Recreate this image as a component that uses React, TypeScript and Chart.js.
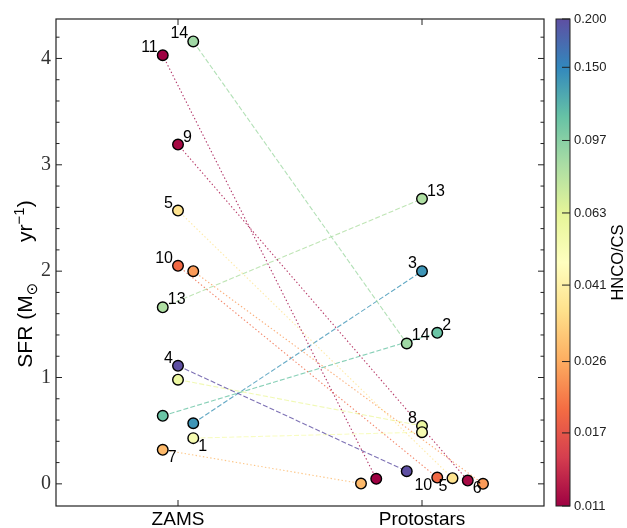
import React, { useEffect, useRef } from 'react';
import { Chart, registerables } from 'chart.js';

Chart.register(...registerables);

// ---------- data ----------
const categories = ['ZAMS', 'Protostars'];
const zamsSfr = [4.16, 4.03, 3.19, 2.57, 2.05, 2.0, 1.66, 1.11, 0.98, 0.64, 0.57, 0.43, 0.32];
const protoSfr = [1.32, 0.047, 0.031, 0.053, 0.059, 0.0, 2.68, 0.119, 0.545, 1.42, 2.0, 0.486, 0.003];
const hncoCs = [0.088, 0.011, 0.0115, 0.036, 0.019, 0.024, 0.082, 0.2, 0.058, 0.11, 0.14, 0.052, 0.028];
const zamsJitter = [1, -1, 0, 0, 0, 1, -1, 0, 0, -1, 1, 1, -1];
const protoJitter = [-1, -3, 3, 2, 1, 4, 0, -1, 0, 1, 0, 0, -4];
const zamsLabels = ['14', '11', '9', '5', '10', '', '13', '4', '', '', '', '1', '7'];
const protoLabels = ['14', '', '6', '5', '10', '', '13', '', '8', '2', '3', '', ''];
const zamsLabelPos = ['ul', 'ul', 'ur', 'ul', 'ul', '', 'ur', 'ul', '', '', '', 'lr', 'lr'];
const protoLabelPos = ['ur', '', 'lr', 'll', 'll', '', 'ur', '', 'ul', 'ur', 'ul', '', ''];
const lineStyle = ['dash', 'dot', 'dot', 'dot', 'dot', 'dot', 'dash', 'dash', 'dash', 'dash', 'dash', 'dash', 'dot'];
const yTicks = [0, 1, 2, 3, 4];
const cbTicks = [0.011, 0.017, 0.026, 0.041, 0.063, 0.097, 0.15, 0.2];
const cbMin = 0.011;
const cbMax = 0.2;

const JIT = 1 / 16;

const spectralStops = ['#9e0142', '#d53e4f', '#f46d43', '#fdae61', '#fee08b', '#ffffbf', '#e6f598', '#abdda4', '#66c2a5', '#3288bd', '#5e4fa2'];

function hexToRgb(h: string): number[] {
  return [parseInt(h.slice(1, 3), 16), parseInt(h.slice(3, 5), 16), parseInt(h.slice(5, 7), 16)];
}
function spectral(t: number): number[] {
  const tt = Math.max(0, Math.min(1, t)) * 10;
  const i = Math.min(9, Math.floor(tt));
  const f = tt - i;
  const a = hexToRgb(spectralStops[i]);
  const b = hexToRgb(spectralStops[i + 1]);
  return [0, 1, 2].map((k) => Math.round(a[k] + (b[k] - a[k]) * f));
}
function colorFor(v: number, alpha = 1): string {
  const t = Math.log(v / cbMin) / Math.log(cbMax / cbMin);
  const c = spectral(t);
  return `rgba(${c[0]},${c[1]},${c[2]},${alpha})`;
}

const decor = {
  id: 'decor',
  afterDatasetsDraw(chart: any) {
    const ctx = chart.ctx;
    ctx.save();
    ctx.font = '16px "Liberation Sans"';
    ctx.fillStyle = '#000';
    const draw = (dsIndex: number, labels: string[], pos: string[]) => {
      const meta = chart.getDatasetMeta(dsIndex);
      labels.forEach((lab, i) => {
        if (!lab) return;
        const el = meta.data[i];
        const p = pos[i];
        const left = p[1] === 'l';
        const up = p[0] === 'u';
        ctx.textAlign = left ? 'right' : 'left';
        ctx.textBaseline = 'alphabetic';
        ctx.fillText(lab, el.x + (left ? -5 : 5), el.y + (up ? -3 : 12.5));
      });
    };
    const n = zamsSfr.length;
    draw(n, zamsLabels, zamsLabelPos);
    draw(n + 1, protoLabels, protoLabelPos);
    ctx.restore();
  },
  afterDraw(chart: any) {
    const ctx = chart.ctx;
    const { left, right, top, bottom } = chart.chartArea;
    const ys = chart.scales.y;
    const xs = chart.scales.x;
    const cb = chart.scales.cb;
    ctx.save();
    // frame
    ctx.strokeStyle = '#222';
    ctx.lineWidth = 1.2;
    ctx.strokeRect(left, top, right - left, bottom - top);
    // y ticks
    ctx.lineWidth = 1;
    ctx.beginPath();
    yTicks.forEach((v) => {
      const py = ys.getPixelForValue(v);
      ctx.moveTo(left, py); ctx.lineTo(left + 6, py);
      ctx.moveTo(right, py); ctx.lineTo(right - 6, py);
    });
    for (let k = 1; k <= 21; k++) {
      if (k % 5 === 0) continue;
      const v = k * 0.2;
      if (v > ys.max) continue;
      const py = ys.getPixelForValue(v);
      ctx.moveTo(left, py); ctx.lineTo(left + 3.5, py);
      ctx.moveTo(right, py); ctx.lineTo(right - 3.5, py);
    }
    [0, 1].forEach((v) => {
      const px = xs.getPixelForValue(v);
      ctx.moveTo(px, bottom); ctx.lineTo(px, bottom - 6);
      ctx.moveTo(px, top); ctx.lineTo(px, top + 6);
    });
    ctx.stroke();

    // colorbar
    const bx = right + 12;
    const bw = 14;
    const g = ctx.createLinearGradient(0, cb.bottom, 0, cb.top);
    spectralStops.forEach((c, k) => g.addColorStop(k / 10, c));
    ctx.fillStyle = g;
    ctx.fillRect(bx, cb.top, bw, cb.bottom - cb.top);
    ctx.strokeStyle = '#222';
    ctx.lineWidth = 1;
    ctx.strokeRect(bx, cb.top, bw, cb.bottom - cb.top);
    ctx.beginPath();
    cbTicks.forEach((v) => {
      const py = cb.getPixelForValue(v);
      ctx.moveTo(bx + bw - 8, py); ctx.lineTo(bx + bw, py);
    });
    ctx.stroke();

    // y title
    ctx.fillStyle = '#000';
    ctx.textBaseline = 'alphabetic';
    ctx.textAlign = 'left';
    const pieces = [
      { t: 'SFR (M', f: '21px "Liberation Sans"', dy: 0 },
      { t: '\u2299', f: '15px "DejaVu Sans"', dy: 5 },
      { t: '       ', f: '21px "Liberation Sans"', dy: 0 },
      { t: 'yr', f: '21px "Liberation Sans"', dy: 0 },
      { t: '\u22121', f: '15px "Liberation Sans"', dy: -8 },
      { t: ')', f: '21px "Liberation Sans"', dy: 0 },
    ];
    let total = 0;
    const widths = pieces.map((p) => { ctx.font = p.f; const w = ctx.measureText(p.t).width; total += w; return w; });
    ctx.save();
    ctx.translate(32, 284);
    ctx.rotate(-Math.PI / 2);
    let x0 = -total / 2;
    pieces.forEach((p, i) => {
      ctx.font = p.f;
      ctx.fillText(p.t, x0, p.dy);
      x0 += widths[i];
    });
    ctx.restore();

    // colorbar title
    ctx.save();
    ctx.translate(623, (cb.top + cb.bottom) / 2);
    ctx.rotate(-Math.PI / 2);
    ctx.font = '16.5px "Liberation Sans"';
    ctx.textAlign = 'center';
    ctx.fillText('HNCO/CS', 0, 0);
    ctx.restore();
    ctx.restore();
  },
};

export default function App() {
  const ref = useRef<HTMLCanvasElement>(null);
  useEffect(() => {
    const canvas = ref.current;
    if (!canvas) return;
    const lineDatasets: any[] = zamsSfr.map((z, i) => ({
      type: 'scatter',
      data: [
        { x: zamsJitter[i] * JIT, y: z },
        { x: 1 + protoJitter[i] * JIT, y: protoSfr[i] },
      ],
      showLine: true,
      borderColor: colorFor(hncoCs[i], 0.8),
      borderWidth: 1.1,
      borderDash: lineStyle[i] === 'dash' ? [5, 2.2] : [1.4, 2.3],
      pointRadius: 0,
      fill: false,
      order: 2,
    }));
    const pointDs = (vals: number[], jit: number[], base: number) => ({
      type: 'scatter',
      data: vals.map((v, i) => ({ x: base + jit[i] * JIT, y: v })),
      pointBackgroundColor: hncoCs.map((c) => colorFor(c)),
      pointBorderColor: '#000',
      pointBorderWidth: 1.4,
      pointRadius: 5.3,
      showLine: false,
      order: 1,
    });
    const chart = new Chart(canvas, {
      type: 'scatter',
      data: {
        datasets: [...lineDatasets, pointDs(zamsSfr, zamsJitter, 0), pointDs(protoSfr, protoJitter, 1)],
      },
      options: {
        animation: false,
        responsive: true,
        maintainAspectRatio: false,
        devicePixelRatio: 1,
        events: [],
        layout: { padding: { top: 19, left: 0, right: 0, bottom: 0 } },
        plugins: { legend: { display: false }, tooltip: { enabled: false } },
        scales: {
          x: {
            type: 'linear',
            min: -0.5,
            max: 1.5,
            position: 'bottom',
            grid: { display: false, drawTicks: false },
            border: { display: false },
            afterBuildTicks: (s: any) => { s.ticks = [{ value: 0 }, { value: 1 }]; },
            afterFit: (s: any) => { s.height = 22; s.paddingLeft = 0; s.paddingRight = 0; },
            ticks: {
              autoSkip: false,
              maxRotation: 0,
              padding: 2,
              color: '#000',
              font: { family: '"Liberation Sans"', size: 19 },
              callback: (v: any) => categories[Number(v)] ?? '',
            },
          },
          y: {
            type: 'linear',
            min: -0.2082,
            max: 4.371,
            position: 'left',
            grid: { display: false, drawTicks: false },
            border: { display: false },
            afterBuildTicks: (s: any) => { s.ticks = yTicks.map((v) => ({ value: v })); },
            afterFit: (s: any) => { s.width = 56; s.paddingTop = 0; s.paddingBottom = 0; },
            ticks: {
              autoSkip: false,
              padding: 5,
              color: '#333',
              font: { family: '"Liberation Serif"', size: 20 },
              callback: (v: any) => String(v),
            },
          },
          cb: {
            type: 'logarithmic',
            min: cbMin,
            max: cbMax,
            position: 'right',
            grid: { display: false, drawTicks: false },
            border: { display: false },
            afterBuildTicks: (s: any) => { s.ticks = cbTicks.map((v) => ({ value: v })); },
            afterFit: (s: any) => { s.width = 83; s.paddingTop = 0; s.paddingBottom = 0; },
            ticks: {
              autoSkip: false,
              padding: 30,
              color: '#222',
              font: { family: '"Liberation Sans"', size: 13 },
              callback: (v: any) => Number(v).toFixed(3),
            },
          },
        },
      } as any,
      plugins: [decor],
    } as any);
    return () => chart.destroy();
  }, []);
  return (
    <div style={{ position: 'absolute', left: 0, top: 0, width: 627, height: 528, background: '#fff' }}>
      <canvas ref={ref} />
    </div>
  );
}
